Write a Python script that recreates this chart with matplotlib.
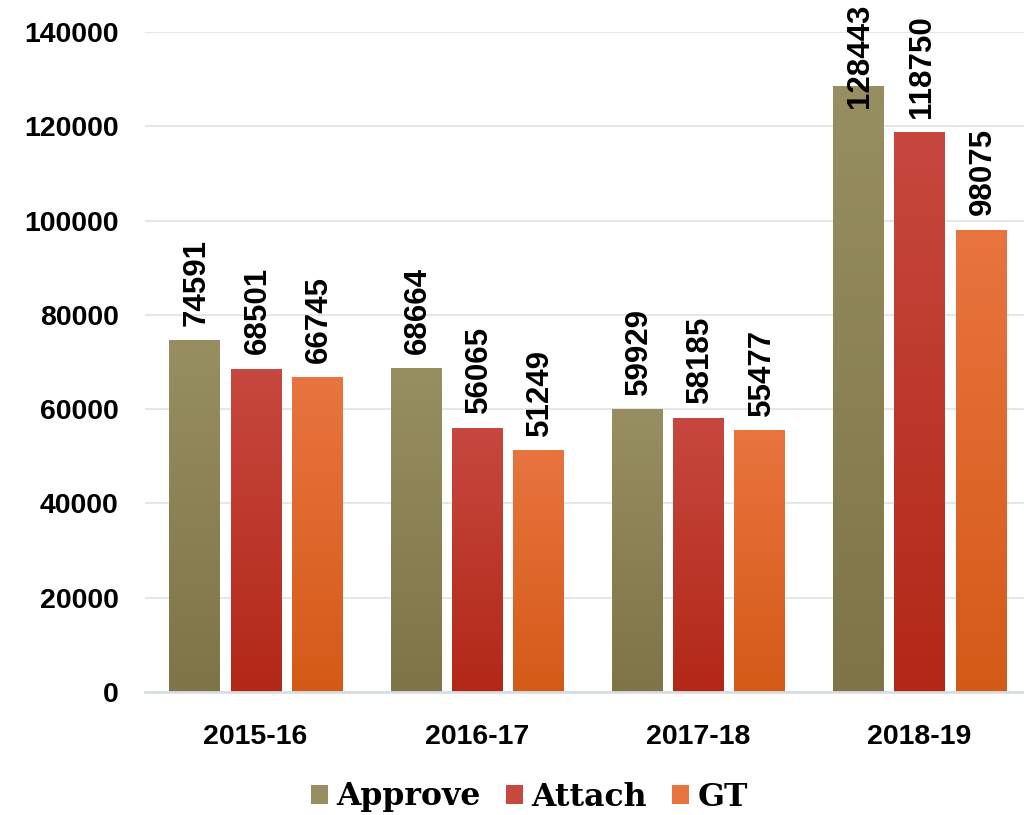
import matplotlib
matplotlib.use("Agg")
import matplotlib.pyplot as plt
import numpy as np
from matplotlib.colors import LinearSegmentedColormap
from matplotlib.patches import Patch

years = ["2015-16", "2016-17", "2017-18", "2018-19"]
approve = [74591, 68664, 59929, 128443]
attach = [68501, 56065, 58185, 118750]
gt = [66745, 51249, 55477, 98075]
series_names = ["Approve", "Attach", "GT"]

# top colour, bottom colour
shades = [("#978e62", "#7e7448"), ("#c7483f", "#b22817"), ("#e9743f", "#d45a17")]

fig = plt.figure(figsize=(10.24, 8.15), dpi=100)
ax = fig.add_axes([145 / 1024, 1 - 692 / 815, 885 / 1024, 660 / 815])

x = np.arange(len(years))
width = 0.226
step = 0.277
grad = np.linspace(0, 1, 256).reshape(-1, 1)
gap = 10.5

labels = []
for k, vals in enumerate([approve, attach, gt]):
    cmap = LinearSegmentedColormap.from_list("g%d" % k, [shades[k][1], shades[k][0]])
    bars = ax.bar(x + (k - 1) * step, vals, width, color="none", zorder=2)
    for b, v in zip(bars, vals):
        x0, w = b.get_x(), b.get_width()
        im = ax.imshow(grad, cmap=cmap, aspect="auto", origin="lower",
                       extent=[x0, x0 + w, 0, v], zorder=2)
        im.set_clip_path(b)
        t = ax.annotate(str(v), (x0 + w / 2 + 0.01, v), xytext=(0, gap),
                        textcoords="offset points", rotation=90,
                        ha="center", va="bottom", fontsize=22.5,
                        fontweight="bold", family="Liberation Sans", zorder=3)
        labels.append(t)

ax.set_xlim(-0.5, 3.5)
ax.set_ylim(0, 140000)
ax.set_yticks(np.arange(0, 140001, 20000))
ax.set_xticks(x)
ax.set_xticklabels(years)
ax.grid(axis="y", color="#dce4e7", linewidth=1.2, zorder=0)
ax.set_axisbelow(True)
for s in ["top", "right", "left"]:
    ax.spines[s].set_visible(False)
ax.spines["bottom"].set_color("#d6dfe2")
ax.spines["bottom"].set_linewidth(2)
ax.tick_params(length=0)
ax.tick_params(axis="y", pad=19)
ax.tick_params(axis="x", pad=23)
for lab in ax.get_xticklabels() + ax.get_yticklabels():
    lab.set_fontsize(20.5)
    lab.set_fontweight("bold")
    lab.set_family("Liberation Sans")

handles = [Patch(facecolor=c[0], edgecolor="none") for c in shades]
leg = fig.legend(handles, series_names, loc="center", bbox_to_anchor=(0.517, 1 - 797 / 815),
                 ncol=3, frameon=False, handlelength=0.55, handleheight=0.55,
                 handletextpad=0.26, columnspacing=0.8,
                 prop={"family": "DejaVu Serif", "weight": "bold", "size": 22.7})

# keep labels that run off the top inside the figure
fig.canvas.draw()
r = fig.canvas.get_renderer()
for t in labels:
    bb = t.get_window_extent(r)
    if bb.y1 > fig.bbox.height - 4:
        shift = bb.y1 - (fig.bbox.height - 4)
        t.xyann = (0, gap - shift * 72 / fig.dpi)

fig.savefig("out.png", dpi=100)
